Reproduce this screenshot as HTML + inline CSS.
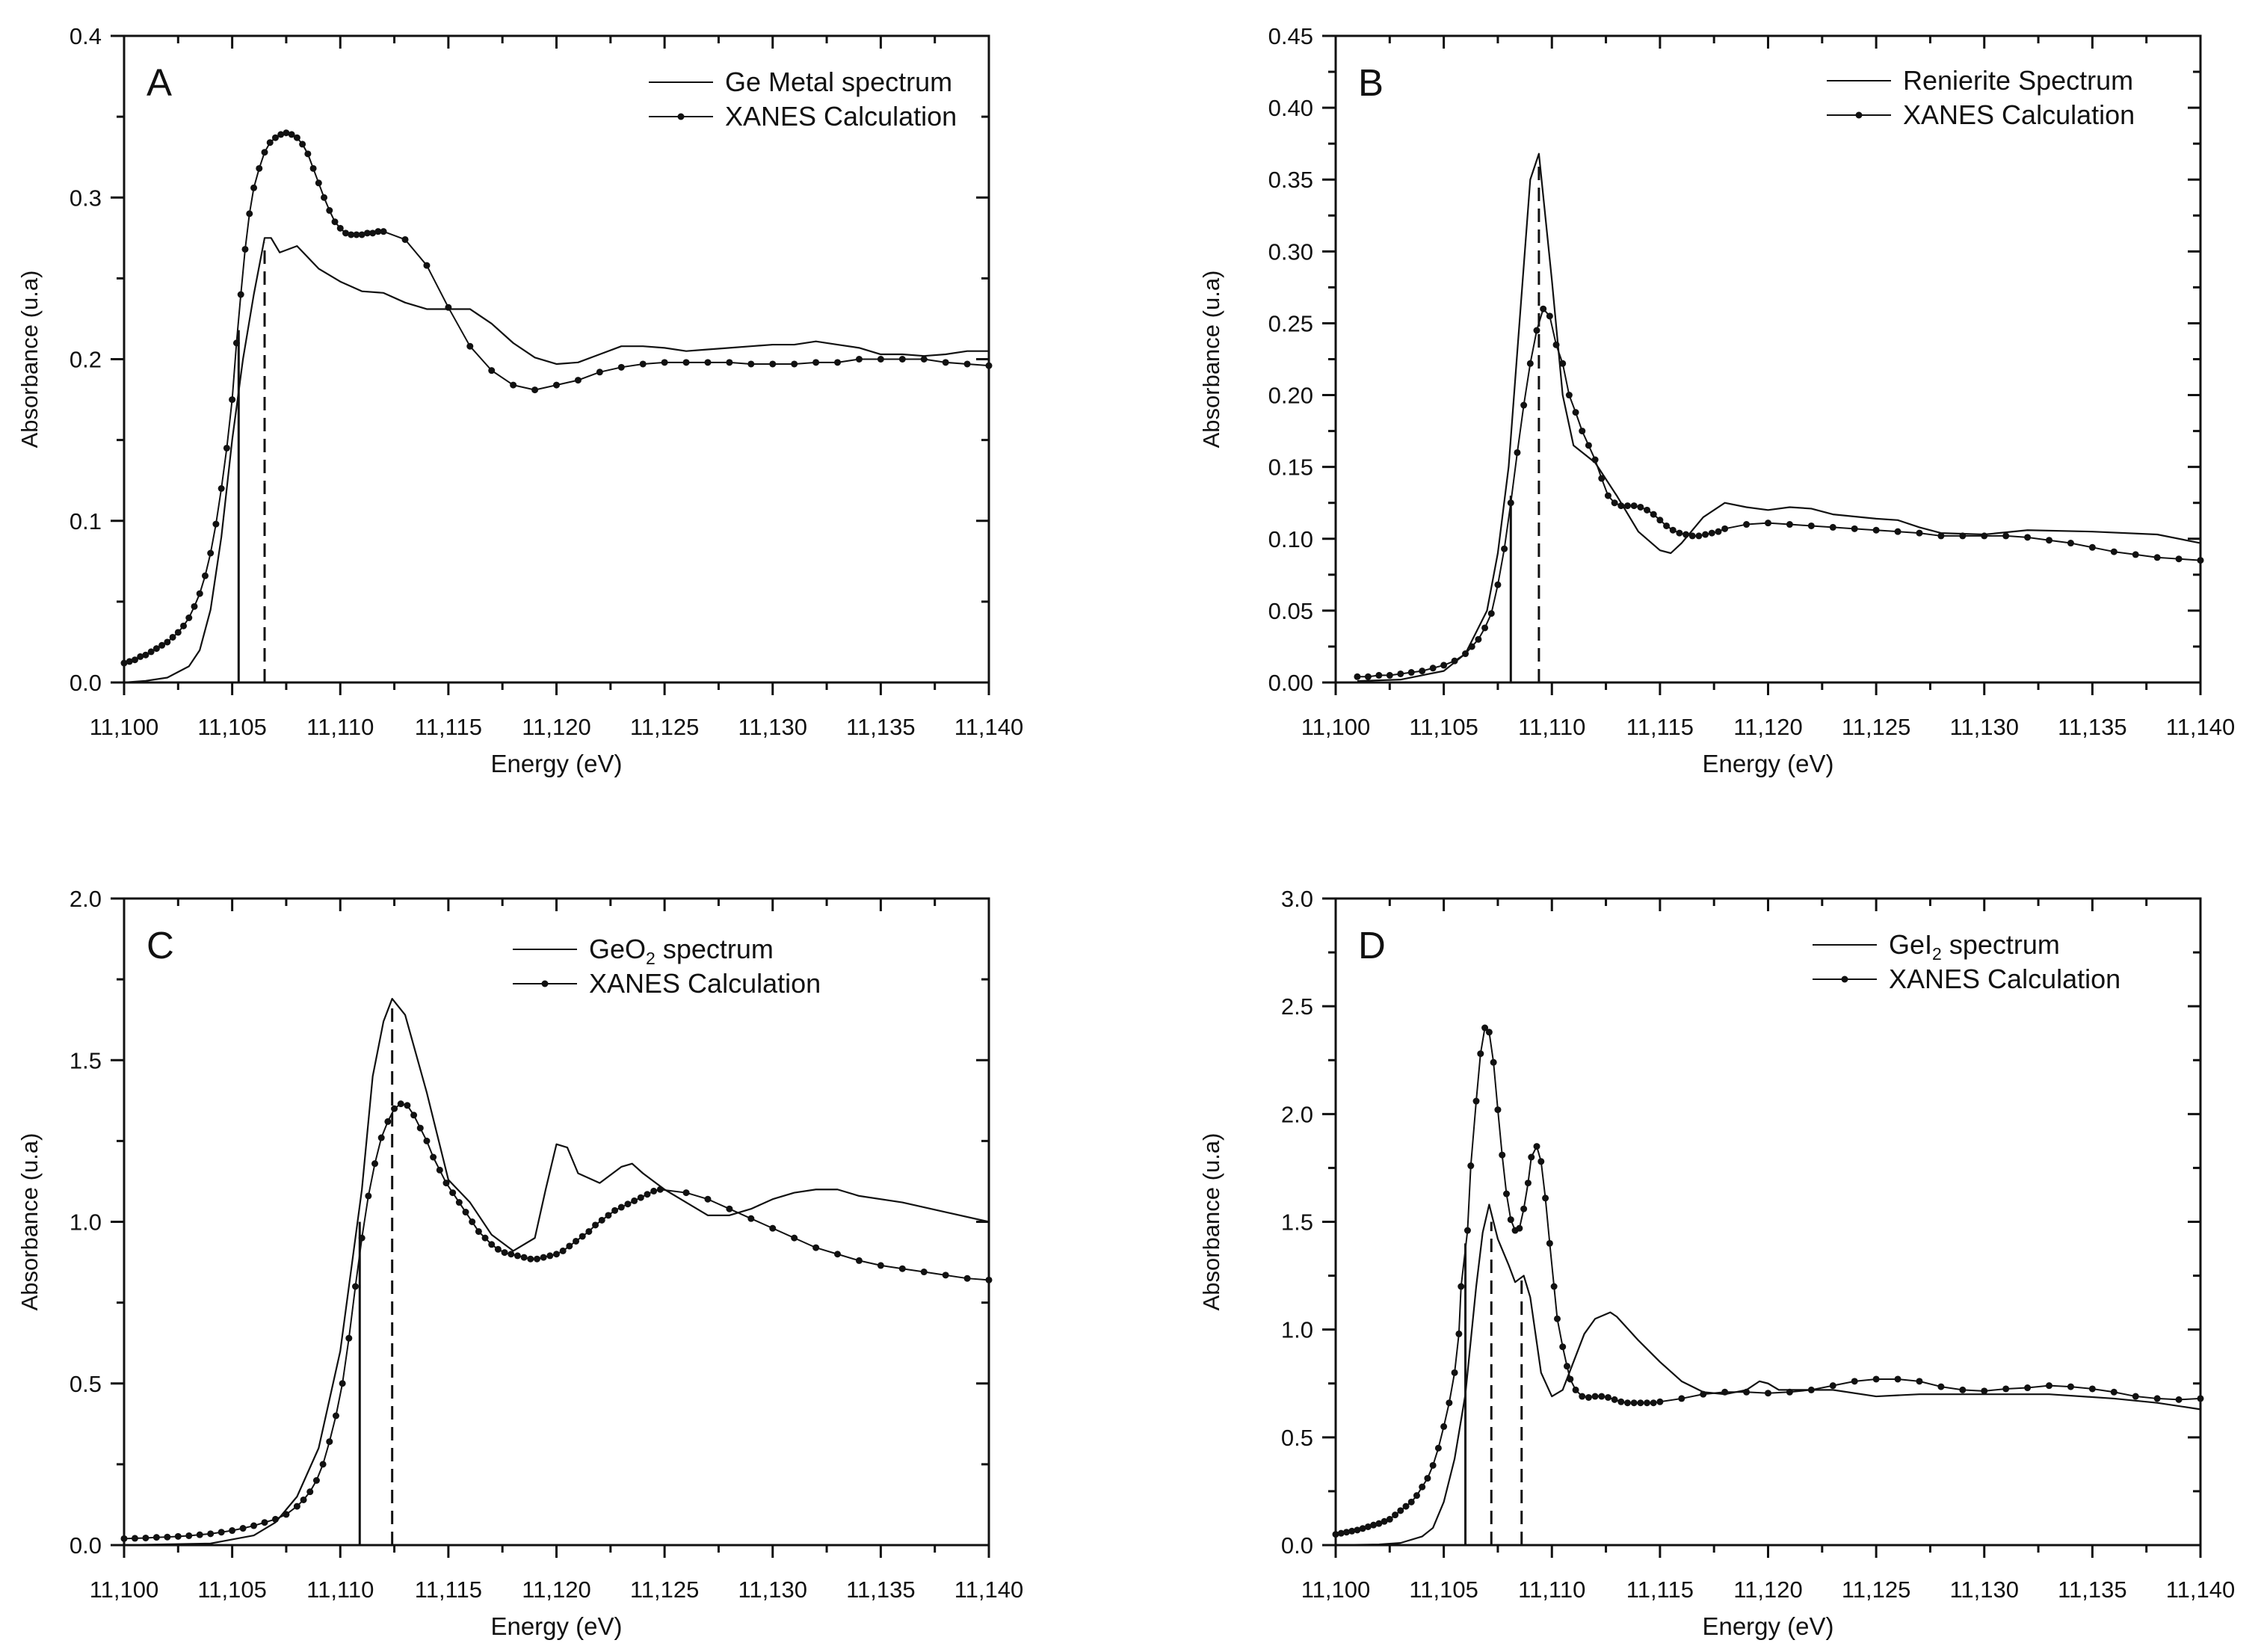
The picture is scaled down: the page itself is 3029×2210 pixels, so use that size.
<!DOCTYPE html>
<html><head><meta charset="utf-8"><style>
html,body{margin:0;padding:0;background:#fff;}
svg{display:block;}
text{font-family:"Liberation Sans",sans-serif;fill:#111;}
</style></head><body>
<svg id="fig" width="3029" height="2210" viewBox="0 0 3029 2210" xmlns="http://www.w3.org/2000/svg"></svg>
<script>
// Panel A data
const aExpX=[11100,11101,11102,11103,11103.5,11104,11104.5,11105,11105.5,11106,11106.5,11106.8,11107.2,11108,11109,11110,11111,11112,11113,11114,11115,11116,11117,11118,11119,11120,11121,11122,11123,11124,11125,11126,11127,11128,11129,11130,11131,11132,11133,11134,11135,11136,11137,11138,11139,11140];
const aExpY=[0,0.001,0.003,0.01,0.02,0.045,0.09,0.15,0.2,0.24,0.275,0.275,0.266,0.27,0.256,0.248,0.242,0.241,0.235,0.231,0.231,0.231,0.222,0.21,0.201,0.197,0.198,0.203,0.208,0.208,0.207,0.205,0.206,0.207,0.208,0.209,0.209,0.211,0.209,0.207,0.203,0.203,0.202,0.203,0.205,0.205];
const aCalX=[11100,11100.25,11100.5,11100.75,11101,11101.25,11101.5,11101.75,11102,11102.25,11102.5,11102.75,11103,11103.25,11103.5,11103.75,11104,11104.25,11104.5,11104.75,11105,11105.2,11105.4,11105.6,11105.8,11106,11106.25,11106.5,11106.75,11107,11107.25,11107.5,11107.75,11108,11108.25,11108.5,11108.75,11109,11109.25,11109.5,11109.75,11110,11110.25,11110.5,11110.75,11111,11111.25,11111.5,11111.75,11112,11113,11114,11115,11116,11117,11118,11119,11120,11121,11122,11123,11124,11125,11126,11127,11128,11129,11130,11131,11132,11133,11134,11135,11136,11137,11138,11139,11140];
const aCalY=[0.012,0.013,0.014,0.016,0.017,0.019,0.021,0.023,0.025,0.028,0.031,0.035,0.04,0.047,0.055,0.066,0.08,0.098,0.12,0.145,0.175,0.21,0.24,0.268,0.29,0.306,0.318,0.328,0.334,0.337,0.339,0.34,0.339,0.337,0.333,0.327,0.318,0.309,0.3,0.292,0.285,0.281,0.278,0.277,0.277,0.277,0.278,0.278,0.279,0.279,0.274,0.258,0.232,0.208,0.193,0.184,0.181,0.184,0.187,0.192,0.195,0.197,0.198,0.198,0.198,0.198,0.197,0.197,0.197,0.198,0.198,0.2,0.2,0.2,0.2,0.198,0.197,0.196];
const aVert=[[11105.3,0.218,'solid'],[11106.5,0.272,'dash']];
// Panel B data
const bExpX=[11101,11103,11105,11106,11107,11107.5,11108,11108.5,11109,11109.4,11110,11110.5,11111,11112,11113,11114,11115,11115.5,11116,11117,11118,11119,11120,11121,11122,11123,11125,11126,11127,11128,11130,11132,11135,11138,11140];
const bExpY=[0.001,0.002,0.008,0.02,0.05,0.09,0.15,0.25,0.35,0.368,0.28,0.2,0.165,0.153,0.13,0.105,0.092,0.09,0.097,0.115,0.125,0.122,0.12,0.122,0.121,0.117,0.114,0.113,0.108,0.104,0.103,0.106,0.105,0.103,0.097];
const bCalX=[11101,11101.5,11102,11102.5,11103,11103.5,11104,11104.5,11105,11105.5,11106,11106.3,11106.6,11106.9,11107.2,11107.5,11107.8,11108.1,11108.4,11108.7,11109,11109.3,11109.6,11109.9,11110.2,11110.5,11110.8,11111.1,11111.4,11111.7,11112,11112.3,11112.6,11112.9,11113.2,11113.5,11113.8,11114.1,11114.4,11114.7,11115,11115.3,11115.6,11115.9,11116.2,11116.5,11116.8,11117.1,11117.4,11117.7,11118,11119,11120,11121,11122,11123,11124,11125,11126,11127,11128,11129,11130,11131,11132,11133,11134,11135,11136,11137,11138,11139,11140];
const bCalY=[0.004,0.004,0.005,0.005,0.006,0.007,0.008,0.01,0.012,0.015,0.02,0.025,0.03,0.038,0.048,0.068,0.093,0.125,0.16,0.193,0.222,0.245,0.26,0.255,0.235,0.222,0.2,0.188,0.175,0.165,0.155,0.142,0.13,0.125,0.123,0.123,0.123,0.122,0.12,0.117,0.113,0.109,0.106,0.104,0.103,0.102,0.102,0.103,0.104,0.105,0.107,0.11,0.111,0.11,0.109,0.108,0.107,0.106,0.105,0.104,0.102,0.102,0.102,0.102,0.101,0.099,0.097,0.094,0.091,0.089,0.087,0.086,0.085];
const bVert=[[11108.1,0.13,'solid'],[11109.4,0.36,'dash']];
// Panel C data
const cExpX=[11100,11104,11106,11107,11108,11109,11110,11110.5,11111,11111.5,11112,11112.4,11113,11114,11115,11116,11117,11118,11119,11119.5,11120,11120.5,11121,11122,11123,11123.5,11124,11125,11126,11127,11128,11129,11130,11131,11132,11133,11134,11136,11138,11140];
const cExpY=[0,0.005,0.03,0.07,0.15,0.3,0.6,0.85,1.1,1.45,1.62,1.69,1.64,1.4,1.13,1.06,0.96,0.91,0.95,1.1,1.24,1.23,1.15,1.12,1.17,1.18,1.15,1.1,1.06,1.02,1.02,1.04,1.07,1.09,1.1,1.1,1.08,1.06,1.03,1.0];
const cCalX=[11100,11100.5,11101,11101.5,11102,11102.5,11103,11103.5,11104,11104.5,11105,11105.5,11106,11106.5,11107,11107.5,11108,11108.3,11108.6,11108.9,11109.2,11109.5,11109.8,11110.1,11110.4,11110.7,11111,11111.3,11111.6,11111.9,11112.2,11112.5,11112.8,11113.1,11113.4,11113.7,11114,11114.3,11114.6,11114.9,11115.2,11115.5,11115.8,11116.1,11116.4,11116.7,11117,11117.3,11117.6,11117.9,11118.2,11118.5,11118.8,11119.1,11119.4,11119.7,11120,11120.3,11120.6,11120.9,11121.2,11121.5,11121.8,11122.1,11122.4,11122.7,11123,11123.3,11123.6,11123.9,11124.2,11124.5,11124.8,11126,11127,11128,11129,11130,11131,11132,11133,11134,11135,11136,11137,11138,11139,11140];
const cCalY=[0.02,0.021,0.022,0.024,0.025,0.027,0.029,0.032,0.035,0.04,0.045,0.052,0.06,0.07,0.08,0.095,0.12,0.14,0.165,0.2,0.25,0.32,0.4,0.5,0.64,0.8,0.95,1.08,1.18,1.26,1.31,1.35,1.365,1.36,1.33,1.29,1.25,1.2,1.16,1.12,1.09,1.06,1.03,1.0,0.97,0.95,0.93,0.915,0.905,0.9,0.895,0.89,0.885,0.885,0.89,0.895,0.9,0.91,0.925,0.94,0.955,0.97,0.99,1.005,1.02,1.035,1.045,1.055,1.065,1.075,1.085,1.095,1.1,1.09,1.07,1.04,1.01,0.98,0.95,0.92,0.9,0.88,0.865,0.855,0.845,0.835,0.825,0.82];
const cVert=[[11110.9,1.0,'solid'],[11112.4,1.68,'dash']];
// Panel D data
const dExpX=[11100,11102,11103,11104,11104.5,11105,11105.5,11106,11106.5,11106.8,11107.1,11107.5,11108,11108.3,11108.7,11109,11109.5,11110,11110.5,11111,11111.5,11112,11112.7,11113,11114,11115,11116,11117,11118,11119,11119.6,11120,11120.5,11122,11123,11125,11127,11130,11133,11136,11138,11140];
const dExpY=[0,0.003,0.01,0.04,0.08,0.2,0.4,0.7,1.2,1.45,1.58,1.42,1.3,1.22,1.25,1.15,0.8,0.69,0.72,0.85,0.98,1.05,1.08,1.06,0.95,0.85,0.76,0.71,0.7,0.72,0.76,0.75,0.72,0.72,0.72,0.69,0.7,0.7,0.7,0.68,0.66,0.63];
const dCalX=[11100,11100.25,11100.5,11100.75,11101,11101.25,11101.5,11101.75,11102,11102.25,11102.5,11102.75,11103,11103.25,11103.5,11103.75,11104,11104.25,11104.5,11104.75,11105,11105.25,11105.5,11105.7,11105.8,11106.1,11106.25,11106.5,11106.7,11106.9,11107.1,11107.3,11107.5,11107.7,11107.9,11108.1,11108.3,11108.5,11108.7,11108.9,11109.05,11109.3,11109.5,11109.7,11109.9,11110.1,11110.25,11110.5,11110.7,11110.85,11111.1,11111.4,11111.7,11112,11112.3,11112.6,11112.9,11113.2,11113.5,11113.8,11114.1,11114.4,11114.7,11115,11116,11117,11118,11119,11120,11121,11122,11123,11124,11125,11126,11127,11128,11129,11130,11131,11132,11133,11134,11135,11136,11137,11138,11139,11140];
const dCalY=[0.05,0.055,0.06,0.065,0.07,0.077,0.085,0.093,0.1,0.11,0.12,0.14,0.16,0.18,0.2,0.23,0.27,0.31,0.37,0.45,0.55,0.66,0.8,0.98,1.2,1.46,1.76,2.06,2.28,2.4,2.38,2.24,2.02,1.81,1.63,1.51,1.46,1.47,1.56,1.68,1.8,1.85,1.78,1.61,1.4,1.2,1.05,0.92,0.83,0.77,0.72,0.69,0.685,0.69,0.69,0.685,0.675,0.665,0.66,0.66,0.66,0.66,0.66,0.665,0.68,0.7,0.71,0.71,0.705,0.71,0.72,0.74,0.76,0.77,0.77,0.76,0.735,0.72,0.715,0.725,0.73,0.74,0.735,0.725,0.71,0.69,0.68,0.675,0.68];
const dVert=[[11106,1.4,'solid'],[11107.2,1.5,'dash'],[11108.6,1.23,'dash']];
// Axis ticks
const xTicks=[11100,11105,11110,11115,11120,11125,11130,11135,11140];
const xTickLabels=['11,100','11,105','11,110','11,115','11,120','11,125','11,130','11,135','11,140'];
const aYTicks=['0.0','0.1','0.2','0.3','0.4'];
const bYTicks=['0.00','0.05','0.10','0.15','0.20','0.25','0.30','0.35','0.40','0.45'];
const cYTicks=['0.0','0.5','1.0','1.5','2.0'];
const dYTicks=['0.0','0.5','1.0','1.5','2.0','2.5','3.0'];

const NS='http://www.w3.org/2000/svg';
const svg=document.getElementById('fig');
function mk(tag,attrs,parent){const e=document.createElementNS(NS,tag);for(const k in attrs)e.setAttribute(k,attrs[k]);(parent||svg).appendChild(e);return e;}

const panels=[
 {id:'a',L:166,R:1323,T:48,B:913,ymax:0.4,ymin:0,yt:aYTicks,minor:0.05,ex:aExpX,ey:aExpY,cx:aCalX,cy:aCalY,vert:aVert,letter:'A',leg:'Ge Metal spectrum',titleX:42,legX:868,legY:110},
 {id:'b',L:1787,R:2944,T:48,B:913,ymax:0.45,ymin:0,yt:bYTicks,minor:0.025,ex:bExpX,ey:bExpY,cx:bCalX,cy:bCalY,vert:bVert,letter:'B',leg:'Renierite Spectrum',titleX:1623,legX:2444,legY:108},
 {id:'c',L:166,R:1323,T:1202,B:2067,ymax:2.0,ymin:0,yt:cYTicks,minor:0.25,ex:cExpX,ey:cExpY,cx:cCalX,cy:cCalY,vert:cVert,letter:'C',leg:['GeO','2',' spectrum'],titleX:42,legX:686,legY:1270},
 {id:'d',L:1787,R:2944,T:1202,B:2067,ymax:3.0,ymin:0,yt:dYTicks,minor:0.25,ex:dExpX,ey:dExpY,cx:dCalX,cy:dCalY,vert:dVert,letter:'D',leg:['GeI','2',' spectrum'],titleX:1623,legX:2425,legY:1264}
];

panels.forEach(p=>{
 const g=mk('g',{});
 
 
 const sx=v=>p.L+(v-11100)/(11140-11100)*(p.R-p.L);
 const sy=v=>p.B-(v-p.ymin)/(p.ymax-p.ymin)*(p.B-p.T);
 const fr=mk('rect',{x:p.L,y:p.T,width:p.R-p.L,height:p.B-p.T,fill:'none',stroke:'#111','stroke-width':3},g);
 
 
 for(let v=11100;v<=11140;v+=2.5){
  const major=(v%5===0);const x=sx(v);
  mk('line',{x1:x,x2:x,y1:p.B,y2:p.B+(major?17:10),stroke:'#111','stroke-width':3},g);
  mk('line',{x1:x,x2:x,y1:p.T,y2:p.T+(major?17:10),stroke:'#111','stroke-width':3},g);
 }
 xTicks.forEach((v,i)=>{
  const t=mk('text',{x:sx(v),y:p.B+70,'font-size':31,'text-anchor':'middle'},g);
  t.textContent=xTickLabels[i];
  
  
 });
 const nMinor=Math.round((p.ymax-p.ymin)/p.minor);
 const majorStep=(p.ymax-p.ymin)/(p.yt.length-1);
 for(let i=0;i<=nMinor;i++){
  const v=p.ymin+i*p.minor;const y=sy(v);
  const major=Math.abs(v/majorStep-Math.round(v/majorStep))<1e-6;
  mk('line',{x1:p.L-(major?18:10),x2:p.L,y1:y,y2:y,stroke:'#111','stroke-width':3},g);
  mk('line',{x1:p.R-(major?17:10),x2:p.R,y1:y,y2:y,stroke:'#111','stroke-width':3},g);
 }
 p.yt.forEach((lab,i)=>{
  const t=mk('text',{x:p.L-30,y:sy(p.ymin+i*majorStep)+11,'font-size':31,'text-anchor':'end'},g);
  t.textContent=lab;
  
  
 });
 const xt=mk('text',{x:(p.L+p.R)/2,y:p.B+120,'font-size':33,'text-anchor':'middle'},g);
 xt.textContent='Energy (eV)';
 
 
 const cy=(p.T+p.B)/2;
 const yt=mk('text',{x:p.titleX,y:cy,'font-size':31,'text-anchor':'middle',transform:'rotate(-90 '+p.titleX+' '+cy+')','dominant-baseline':'middle'},g);
 yt.textContent='Absorbance (u.a)';
 
 
 p.vert.forEach(vl=>{
  const l=mk('line',{x1:sx(vl[0]),x2:sx(vl[0]),y1:p.B,y2:sy(vl[1]),stroke:'#111','stroke-width':3},g);
  if(vl[2]==='dash')l.setAttribute('stroke-dasharray','18,10');
  
  
 });
 const ep=mk('polyline',{points:p.ex.map((x,i)=>sx(x)+','+sy(p.ey[i])).join(' '),fill:'none',stroke:'#111','stroke-width':2.2,'stroke-linejoin':'round'},g);
 
 
 const cp=mk('polyline',{points:p.cx.map((x,i)=>sx(x)+','+sy(p.cy[i])).join(' '),fill:'none',stroke:'#111','stroke-width':2,'stroke-linejoin':'round'},g);
 
 
 p.cx.forEach((x,i)=>{
  const c=mk('circle',{cx:sx(x),cy:sy(p.cy[i]),r:4.5,fill:'#111'},g);
  
  
 });
 const lt=mk('text',{x:p.L+30,y:p.T+80,'font-size':51},g);
 lt.textContent=p.letter;
 
 
 const lg=mk('g',{},g);
 
 
 mk('line',{x1:p.legX,x2:p.legX+86,y1:p.legY,y2:p.legY,stroke:'#111','stroke-width':2},lg);
 mk('line',{x1:p.legX,x2:p.legX+86,y1:p.legY+46,y2:p.legY+46,stroke:'#111','stroke-width':2},lg);
 mk('circle',{cx:p.legX+43,cy:p.legY+46,r:4.5,fill:'#111'},lg);
 const t1=mk('text',{x:p.legX+102,y:p.legY+12,'font-size':36},lg);
 if(Array.isArray(p.leg)){
  const s1=mk('tspan',{},t1);s1.textContent=p.leg[0];
  const s2=mk('tspan',{'font-size':23,dy:8},t1);s2.textContent=p.leg[1];
  const s3=mk('tspan',{dy:-8},t1);s3.textContent=p.leg[2];
 } else t1.textContent=p.leg;
 
 
 const t2=mk('text',{x:p.legX+102,y:p.legY+58,'font-size':36},lg);
 t2.textContent='XANES Calculation';
 
 
});
</script>
</body></html>
